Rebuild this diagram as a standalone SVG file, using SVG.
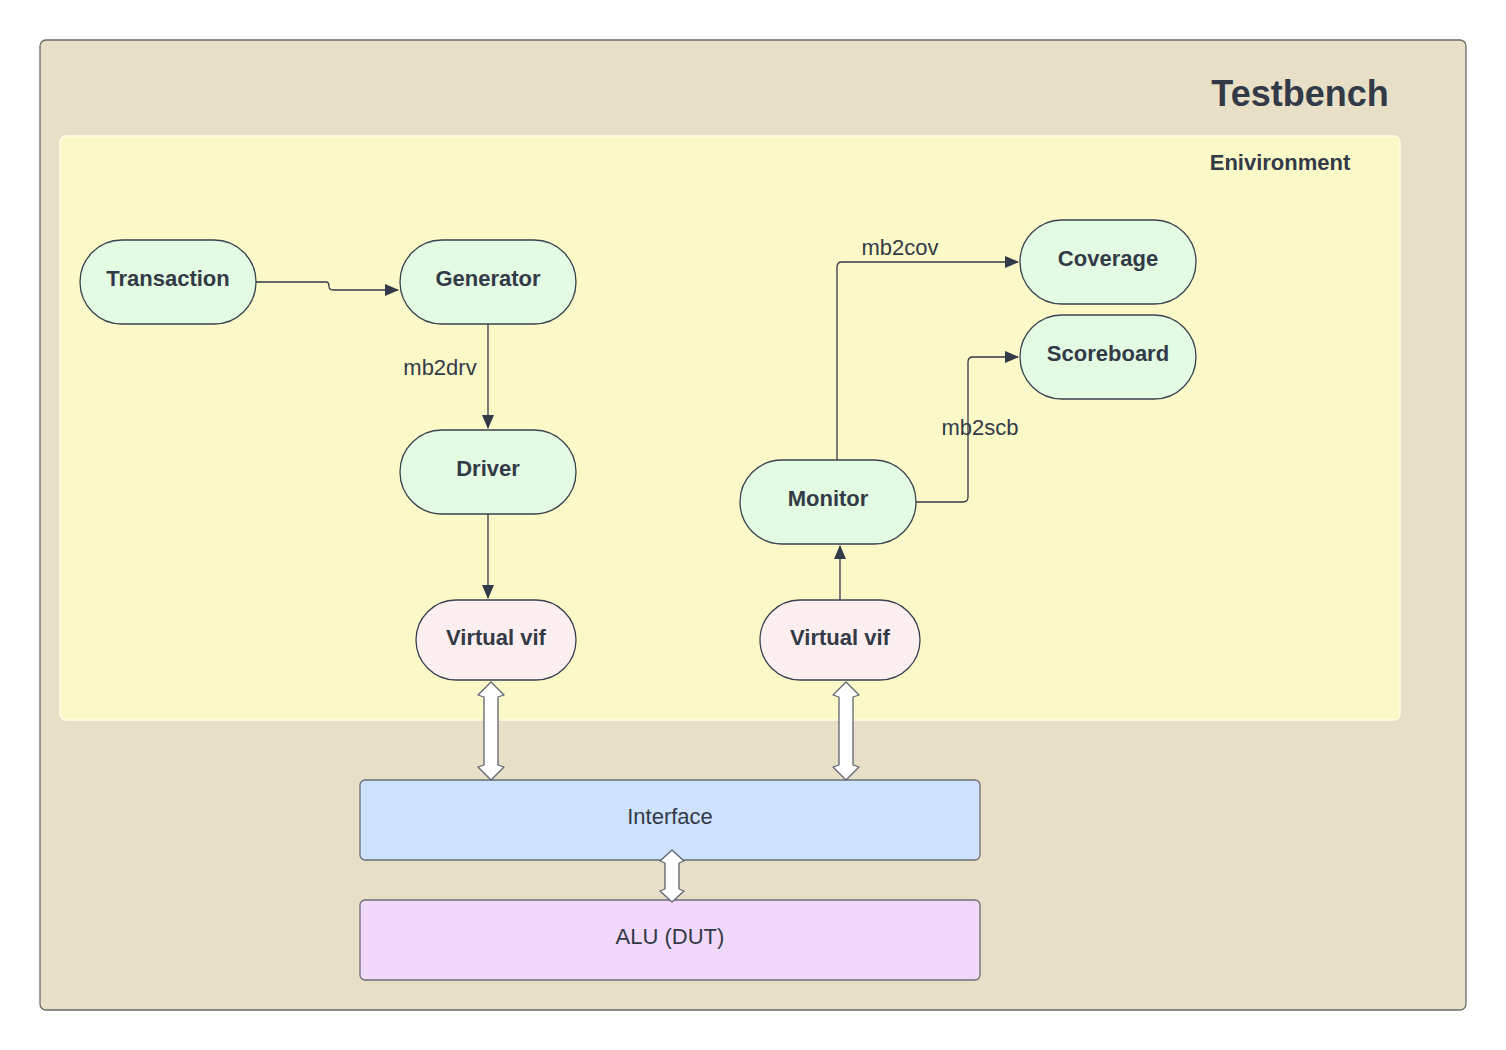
<svg xmlns="http://www.w3.org/2000/svg" width="1506" height="1050" viewBox="0 0 1506 1050">
<defs>
<marker id="ah" viewBox="0 0 14 12" refX="13" refY="6" markerWidth="14" markerHeight="12" markerUnits="userSpaceOnUse" orient="auto">
<path d="M0,0 L14,6 L0,12 Z" fill="#333a47"/>
</marker>
<style>
.pill{fill:#e3fae3;stroke:#3a4150;stroke-width:1.3}
.pink{fill:#fdefef;stroke:#3a4150;stroke-width:1.3}
.lbl{font-family:"Liberation Sans",Arial,sans-serif;font-weight:bold;font-size:22px;fill:#333a47;text-anchor:middle}
.reg{font-family:"Liberation Sans",Arial,sans-serif;font-size:22px;fill:#333a47;text-anchor:middle}
.conn{fill:none;stroke:#333a47;stroke-width:1.3}
.block{fill:#ffffff;stroke:#5f6470;stroke-width:1.3;stroke-linejoin:round}
</style>
</defs>
<rect x="0" y="0" width="1506" height="1050" fill="#ffffff"/>
<g id="testbench">
<rect x="40" y="40" width="1426" height="970" rx="6" fill="#e7e0c7" stroke="#6b6b6b" stroke-width="1.3"/>
<text x="1300" y="106" class="lbl" style="font-size:36px">Testbench</text>
</g>
<g id="environment">
<rect x="60" y="136" width="1340" height="584" rx="6" fill="#fbf9c8" stroke="#fffbe8" stroke-width="1.5"/>
<text x="1280" y="170" class="lbl">Enivironment</text>
</g>
<g id="transaction">
<rect x="80" y="240" width="176" height="84" rx="42" class="pill"/>
<text x="168" y="286" class="lbl">Transaction</text>
</g>
<g id="generator">
<rect x="400" y="240" width="176" height="84" rx="42" class="pill"/>
<text x="488" y="286" class="lbl">Generator</text>
</g>
<g id="driver">
<rect x="400" y="430" width="176" height="84" rx="42" class="pill"/>
<text x="488" y="476" class="lbl">Driver</text>
</g>
<g id="vif-left">
<rect x="416" y="600" width="160" height="80" rx="40" class="pink"/>
<text x="496" y="645" class="lbl">Virtual vif</text>
</g>
<g id="monitor">
<rect x="740" y="460" width="176" height="84" rx="42" class="pill"/>
<text x="828" y="506" class="lbl">Monitor</text>
</g>
<g id="vif-right">
<rect x="760" y="600" width="160" height="80" rx="40" class="pink"/>
<text x="840" y="645" class="lbl">Virtual vif</text>
</g>
<g id="coverage">
<rect x="1020" y="220" width="176" height="84" rx="42" class="pill"/>
<text x="1108" y="266" class="lbl">Coverage</text>
</g>
<g id="scoreboard">
<rect x="1020" y="315" width="176" height="84" rx="42" class="pill"/>
<text x="1108" y="361" class="lbl">Scoreboard</text>
</g>
<g id="interface">
<rect x="360" y="780" width="620" height="80" rx="5" fill="#cfe2fd" stroke="#6b6e78" stroke-width="1.3"/>
<text x="670" y="824" class="reg">Interface</text>
</g>
<g id="alu">
<rect x="360" y="900" width="620" height="80" rx="5" fill="#f2d9fc" stroke="#6b6e78" stroke-width="1.3"/>
<text x="670" y="944" class="reg">ALU (DUT)</text>
</g>
<g id="connectors">
<path class="conn" d="M256,282 H326 Q329,282 329,286 Q329,290 333,290 H398" marker-end="url(#ah)"/>
<path class="conn" d="M488,324 V428" marker-end="url(#ah)"/>
<path class="conn" d="M488,514 V598" marker-end="url(#ah)"/>
<path class="conn" d="M840,600 V546" marker-end="url(#ah)"/>
<path class="conn" d="M837,460 V267 Q837,262 842,262 H1018" marker-end="url(#ah)"/>
<path class="conn" d="M916,502 H963 Q968,502 968,497 V362 Q968,357 973,357 H1018" marker-end="url(#ah)"/>
<path class="block" d="M491,682 L504,695 L498,697 L498,765 L504,767 L491,780 L478,767 L484,765 L484,697 L478,695 Z"/>
<path class="block" d="M846,682 L859,695 L853,697 L853,765 L859,767 L846,780 L833,767 L839,765 L839,697 L833,695 Z"/>
<path class="block" d="M672,850 L684,861 L679,863 L679,889 L684,891 L672,902 L660,891 L665,889 L665,863 L660,861 Z"/>
<text x="440" y="375" class="reg">mb2drv</text>
<text x="900" y="255" class="reg">mb2cov</text>
<text x="980" y="435" class="reg">mb2scb</text>
</g>
</svg>
